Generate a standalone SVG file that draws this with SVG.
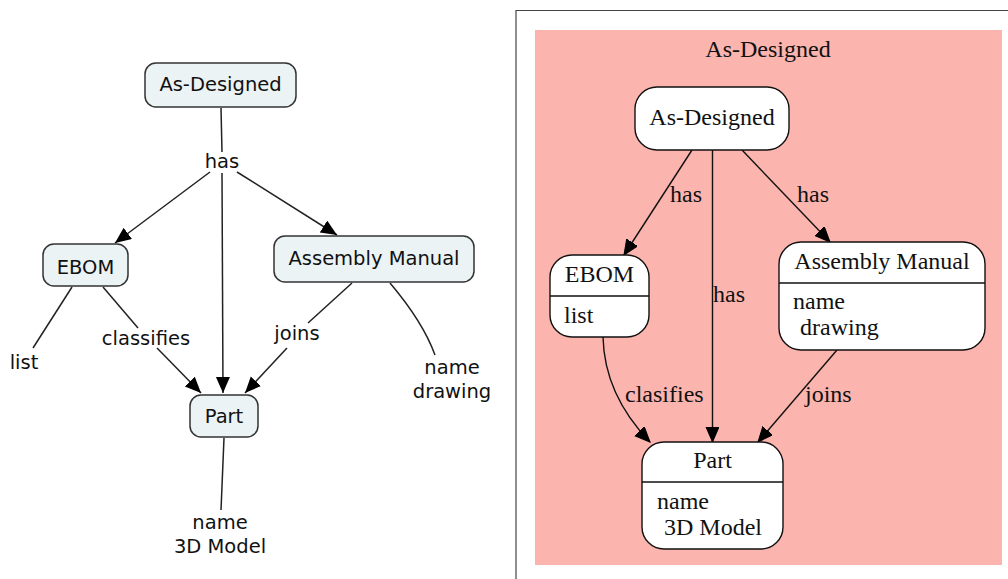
<svg xmlns="http://www.w3.org/2000/svg" width="1008" height="579" viewBox="0 0 1008 579">
<style>
.cm{fill:#ebf3f5;stroke:#333;stroke-width:1.5}
.cmt{font-family:"DejaVu Sans",Verdana,sans-serif;font-size:19.5px;fill:#111;text-anchor:middle}
.cl{fill:none;stroke:#222;stroke-width:1.5}
.gn{fill:#fff;stroke:#111;stroke-width:1.4}
.gt{font-family:"Liberation Serif","Times New Roman",serif;font-size:24px;fill:#111}
.ge{fill:none;stroke:#111;stroke-width:1.4}
.mid{text-anchor:middle}
</style>
<defs>
<marker id="ca" markerUnits="userSpaceOnUse" markerWidth="18" markerHeight="16" refX="16" refY="7" orient="auto">
<path d="M0,0 L16,7 L0,14 Z" fill="#000"/>
</marker>
<marker id="ga" markerUnits="userSpaceOnUse" markerWidth="17" markerHeight="15" refX="15" refY="6.5" orient="auto">
<path d="M0,0 L15,6.5 L0,13 Z" fill="#000" stroke="#000" stroke-width="1"/>
</marker>
</defs>
<rect width="1008" height="579" fill="#fff"/>

<!-- Left: concept map -->
<g id="left-connectors">
<line class="cl" x1="221" y1="108" x2="222" y2="152"/>
<line class="cl" x1="210" y1="172" x2="115" y2="243" marker-end="url(#ca)"/>
<line class="cl" x1="222" y1="173" x2="223" y2="393" marker-end="url(#ca)"/>
<line class="cl" x1="237" y1="172" x2="337" y2="235" marker-end="url(#ca)"/>
<line class="cl" x1="72" y1="287" x2="33" y2="348"/>
<line class="cl" x1="103" y1="287" x2="138" y2="328"/>
<line class="cl" x1="157" y1="348" x2="201" y2="393" marker-end="url(#ca)"/>
<line class="cl" x1="352" y1="283" x2="308" y2="323"/>
<line class="cl" x1="287" y1="348" x2="245" y2="393" marker-end="url(#ca)"/>
<path class="cl" d="M390,283 Q423,322 435,355"/>
<line class="cl" x1="224" y1="438" x2="221" y2="510"/>
</g>
<g id="left-labels">
<text class="cmt" x="222" y="168">has</text>
<text class="cmt" x="24" y="369">list</text>
<text class="cmt" x="146" y="345">classifies</text>
<text class="cmt" x="297" y="340">joins</text>
<text class="cmt" x="452" y="374">name</text>
<text class="cmt" x="452" y="398">drawing</text>
<text class="cmt" x="220" y="529">name</text>
<text class="cmt" x="220" y="553">3D Model</text>
</g>
<g id="cm-as-designed">
<rect class="cm" x="145" y="63" width="151" height="44" rx="11"/>
<text class="cmt" x="220.5" y="91">As-Designed</text>
</g>
<g id="cm-ebom">
<rect class="cm" x="43" y="244" width="85" height="42" rx="11"/>
<text class="cmt" x="85.5" y="274">EBOM</text>
</g>
<g id="cm-assembly-manual">
<rect class="cm" x="274" y="236" width="200" height="46" rx="11"/>
<text class="cmt" x="374" y="265">Assembly Manual</text>
</g>
<g id="cm-part">
<rect class="cm" x="190" y="395" width="68" height="42" rx="11"/>
<text class="cmt" x="224" y="423">Part</text>
</g>

<!-- Right: graphviz -->
<path d="M516,579 L516,10.5 L1008,10.5" fill="none" stroke="#444" stroke-width="1.2"/>
<g id="cluster-as-designed">
<rect x="535" y="30" width="467" height="535" fill="#fbb4ae"/>
<text class="gt mid" x="768" y="57">As-Designed</text>
</g>
<g id="gv-connectors">
<line class="ge" x1="692" y1="150" x2="624" y2="255" marker-end="url(#ga)"/>
<line class="ge" x1="712.5" y1="150" x2="712.5" y2="442" marker-end="url(#ga)"/>
<line class="ge" x1="742" y1="150" x2="830" y2="242" marker-end="url(#ga)"/>
<path class="ge" d="M603,337 C604,380 622,413 650,442" marker-end="url(#ga)"/>
<line class="ge" x1="837" y1="350" x2="758" y2="442" marker-end="url(#ga)"/>
<text class="gt" x="670" y="202">has</text>
<text class="gt" x="797" y="202">has</text>
<text class="gt" x="713" y="302">has</text>
<text class="gt" x="625" y="402">clasifies</text>
<text class="gt" x="805" y="402">joins</text>
</g>
<g id="gv-as-designed">
<rect class="gn" x="635" y="87" width="154" height="63" rx="22"/>
<text class="gt mid" x="712" y="125">As-Designed</text>
</g>
<g id="gv-ebom">
<rect class="gn" x="550" y="255" width="99" height="82" rx="22"/>
<line class="ge" x1="550" y1="296" x2="649" y2="296"/>
<text class="gt mid" x="599.5" y="282">EBOM</text>
<text class="gt" x="564" y="323">list</text>
</g>
<g id="gv-assembly-manual">
<rect class="gn" x="779" y="242" width="206" height="108" rx="22"/>
<line class="ge" x1="779" y1="283" x2="985" y2="283"/>
<text class="gt mid" x="882" y="269">Assembly Manual</text>
<text class="gt" x="793" y="309">name</text>
<text class="gt" x="800" y="335">drawing</text>
</g>
<g id="gv-part">
<rect class="gn" x="642" y="442" width="141" height="107" rx="22"/>
<line class="ge" x1="642" y1="482" x2="783" y2="482"/>
<text class="gt mid" x="712.5" y="468">Part</text>
<text class="gt" x="657" y="509">name</text>
<text class="gt" x="664" y="535">3D Model</text>
</g>
</svg>
